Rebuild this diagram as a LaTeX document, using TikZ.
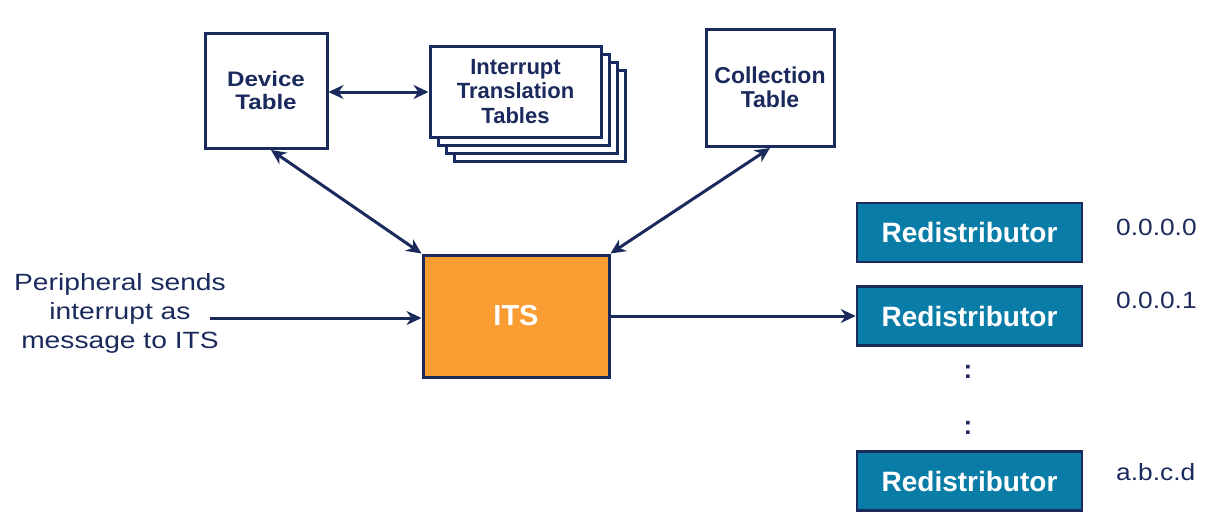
\documentclass[tikz,border=0pt]{standalone}
\usepackage{fontspec}
\setmainfont{Liberation Sans}
\newfontfamily\wideA[FakeStretch=1.15]{Liberation Sans}
\newfontfamily\wideB[FakeStretch=1.2]{Liberation Sans}
\newfontfamily\wideD[FakeStretch=1.12]{Liberation Sans}
\usetikzlibrary{arrows.meta}
\definecolor{navy}{HTML}{1B2A5C}
\definecolor{itsorange}{HTML}{F99C32}
\definecolor{redblue}{HTML}{0A7CA8}
\tikzset{
  tablebox/.style={draw=navy, line width=3pt, fill=white, text=navy, align=center,
    font=\wideA\fontsize{21}{23.5}\selectfont\bfseries, inner sep=0pt},
  ittbox/.style={tablebox, font=\fontsize{22}{24.5}\selectfont\bfseries,
    minimum width=171pt, minimum height=91pt},
  redbox/.style={draw=navy, line width=2.5pt, fill=redblue, text=white,
    minimum width=225pt, minimum height=59pt, inner sep=0pt,
    font=\fontsize{28}{30}\selectfont\bfseries},
  conn/.style={draw=navy, line width=3pt, -{Stealth[length=15pt,width=14pt]}},
  biconn/.style={draw=navy, line width=3pt, {Stealth[length=15pt,width=14pt]}-{Stealth[length=15pt,width=14pt]}},
  addr/.style={text=navy, font=\wideD\fontsize{23.5}{25}\selectfont, anchor=west, inner sep=0pt},
  dots/.style={text=navy, font=\fontsize{26}{28}\selectfont\bfseries, inner sep=0pt}
}
\begin{document}
\begin{tikzpicture}[x=1pt,y=-1pt]
\useasboundingbox (0,0) rectangle (1213,528);
% Tables
\node[tablebox, minimum width=122pt, minimum height=115pt] (dev) at (266,90.5) {Device\\Table};
\node[ittbox] (itt3) at (539.5,115.5) {};
\node[ittbox] (itt2) at (531.5,107.5) {};
\node[ittbox] (itt1) at (523.5,99.5) {};
\node[ittbox] (itt) at (515.5,91.5) {Interrupt\\Translation\\Tables};
\node[tablebox, minimum width=128pt, minimum height=117pt,
  font=\fontsize{23}{23.5}\selectfont\bfseries] (col) at (770,87.5) {Collection\\Table};
% ITS
\node[draw=navy, line width=3pt, fill=itsorange, text=white, minimum width=186pt, minimum height=122pt,
  font=\fontsize{29}{30}\selectfont\bfseries] (its) at (516,316) {ITS};
% Redistributors
\node[redbox] (r0) at (969.5,232.5) {Redistributor};
\node[redbox] (r1) at (969.5,316) {Redistributor};
\node[redbox] (rn) at (969.5,481) {Redistributor};
\node[addr] (a0) at (1116,227) {0.0.0.0};
\node[addr] (a1) at (1116,300) {0.0.0.1};
\node[addr] (an) at (1116,472) {a.b.c.d};
\node[dots] (d1) at (968,372) {:};
\node[dots] (d2) at (968,428) {:};
% Peripheral
\node[text=navy, align=center, font=\wideB\fontsize{23.5}{29}\selectfont, inner sep=0pt] (per) at (120,313)
  {Peripheral sends\\interrupt as\\message to ITS};
\coordinate (pstart) at (210,318);
% Connectors
\draw[biconn] (dev.east |- 0,92) -- (itt.west |- 0,92);
\draw[biconn] (271,150) -- (its.north west);
\draw[biconn] (770,148) -- (its.north east);
\draw[conn] (pstart) -- (its.west |- pstart);
\draw[conn] (its.east |- r1) -- (r1.west);
\end{tikzpicture}
\end{document}
